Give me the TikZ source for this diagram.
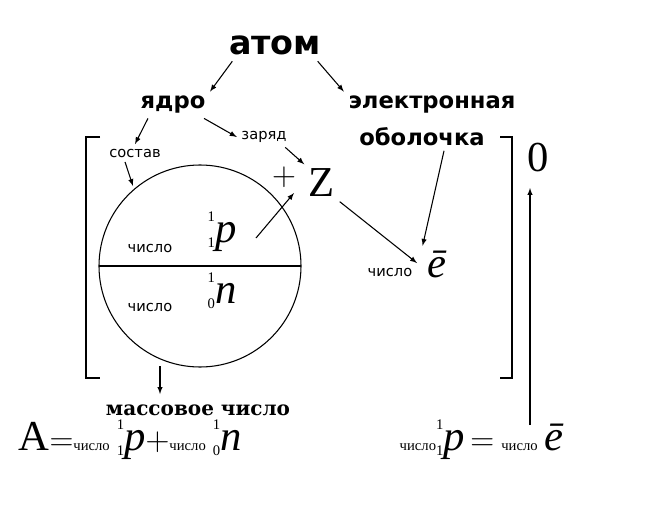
\documentclass[tikz,border=0pt]{standalone}
\usepackage{fontspec}
\setmainfont{Liberation Serif}
\newfontfamily\labfont{DejaVu Sans}
\newfontfamily\massfont{DejaVu Serif}
\usetikzlibrary{positioning}
\tikzset{
  head/.style={font=\labfont\bfseries\fontsize{17}{19}\selectfont},
  small/.style={font=\labfont\fontsize{11}{13}\selectfont},
  arr/.style={draw,-latex,thick},
  big/.style={font=\fontsize{32}{34}\selectfont},
  iso/.style={font=\fontsize{32}{34}\selectfont}
}
\newcommand{\chislo}{{\fontsize{11}{13}\selectfont число}}
\newcommand{\nuc}[3]{\raisebox{-0.25ex}{\fontsize{11}{11}\selectfont\shortstack[r]{#1\\[9pt]#2}}\textit{#3}}
\begin{document}
\begin{tikzpicture}[x=0.75pt,y=-0.75pt]
\useasboundingbox (0,0) rectangle (650,514);
\node[font=\labfont\bfseries\fontsize{25}{27}\selectfont] (atom) at (275,45) {атом};
\node[head] (yadro) at (173,105) {ядро};
\node[head] (el) at (432,105) {электронная};
\node[head] (obol) at (422,137) {оболочка};
\node[small] (sostav) at (135,153) {состав};
\node[small] (zaryad) at (264,137) {заряд};
\node[big] (Z) at (322,183) {Z};
\node[font=\fontsize{24}{26}\selectfont] (plus) at (284,177) {$+$};
\path[draw,thick] (200,266) circle (101);
\path[draw,thick] (99,266) -- (301,266);
\node[small] (c1) at (150,248) {число};
\node[iso] (p) at (222,232) {\nuc11p};
\node[small] (c2) at (150,307) {число};
\node[iso] (n) at (222,291) {\nuc10n};
\node[small] (c3) at (390,272) {число};
\node[iso] (e) at (437,264) {\textit{ē}};
\node[big] (zero) at (538,158) {0};
% brackets
\path[draw,thick] (100,137) -- (86,137) -- (86,378) -- (100,378);
\path[draw,thick] (500,137) -- (512,137) -- (512,378) -- (500,378);
% arrows
\path[arr] (atom.south west) ++(8,2) -- (yadro.north east);
\path[arr] (atom.south east) ++(-8,2) -- (el.north west);
\path[arr] (yadro.south west) ++(12,0) -- (sostav.north);
\path[arr] (yadro.south east) ++(-6,0) -- (zaryad.west);
\path[arr] (zaryad.south east) ++(-6,0) -- (Z.north west);
\path[arr] (sostav.south) ++(-10,0) -- (133,186);
\path[arr] (256,238) -- (294,193);
\path[arr] (Z.south east) -- (c3.north east);
\path[arr] (obol.south) ++(22,0) -- (e.north west);
\coordinate (mtop) at (160,366);
\path[arr] (mtop) -- ++(0,28);
\coordinate (zb) at (530,425);
\path[arr] (zb) -- (530,188);
% bottom
\node[font=\massfont\bfseries\fontsize{15}{17}\selectfont] (mass) at (198,410) {массовое число};
\node[anchor=west,font=\fontsize{32}{34}\selectfont] (A) at (14,440)
  {A$=$\chislo\,\nuc11p$+$\chislo\,\nuc10n};
\node[anchor=west,font=\fontsize{32}{34}\selectfont] (eq) at (395,440)
  {\chislo\nuc11p$\,=$\,\chislo\,\textit{ē}};
\end{tikzpicture}
\end{document}
